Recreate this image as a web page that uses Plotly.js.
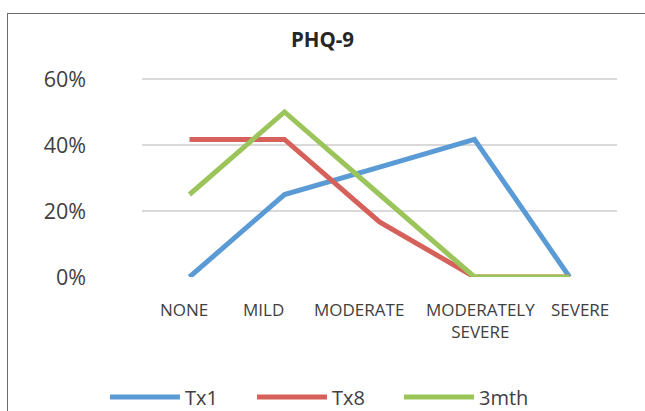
<!DOCTYPE html>
<html><head><meta charset="utf-8">
<script src="https://cdn.plot.ly/plotly-3.0.1.min.js"></script>
<style>
html,body{margin:0;padding:0;background:#fff;overflow:hidden;}
#frame{position:absolute;left:7px;top:13px;width:700px;height:500px;border:1.5px solid #6b6b6b;box-sizing:border-box;}
#chart{position:absolute;left:0;top:0;width:645px;height:411px;}
</style></head>
<body>
<div id="frame"></div>
<div id="chart"></div>
<script>
var categories = ["NONE", "MILD", "MODERATE", "MODERATELY SEVERE", "SEVERE"];
var tickLabels = ["NONE", "MILD", "MODERATE", "MODERATELY<br>SEVERE", "SEVERE"];
var tx1 = [0, 25, 33.3, 41.7, 0];
var tx8 = [41.7, 41.7, 16.7, 0, 0];
var m3 = [25, 50, 25, 0, 0];
var seriesNames = ["Tx1", "Tx8", "3mth"];
var colors = ["#5B9BD5", "#D6615A", "#9BC55B"];
var yTicks = [0, 20, 40, 60];
var yTickText = ["0%", "20%", "40%", "60%"];

// horizontal label offsets (style), mimicking the original layout of the category labels
var labelShift = [-6, -21, -21, 6, 10];

var allVals = [tx1, tx8, m3];
var traces = allVals.map(function(v, i){
  return {x: categories, y: v, type: "scatter", mode: "lines", name: seriesNames[i],
    line: {color: colors[i], width: 5}, hoverinfo: "skip"};
});
var annotations = categories.map(function(c, i){
  return {x: c, xref: "x", y: 0, yref: "paper", yanchor: "top", xanchor: "center",
    yshift: -19, xshift: labelShift[i], text: tickLabels[i], showarrow: false, align: "center",
    font: {size: 17, color: "#404040", family: "Open Sans, Noto Sans, sans-serif"}};
});
var layout = {
  width: 645, height: 411,
  margin: {l: 142, r: 28, t: 77, b: 134, autoexpand: false},
  paper_bgcolor: "rgba(0,0,0,0)", plot_bgcolor: "rgba(0,0,0,0)",
  font: {family: "Open Sans, Noto Sans, sans-serif", color: "#595959"},
  title: {text: "<b>PHQ-9</b>", x: 0.5, xanchor: "center", y: 0.903, yanchor: "middle",
    font: {size: 20.5, color: "#262626", family: "Open Sans, Noto Sans, sans-serif"}},
  xaxis: {type: "category", range: [-0.5, 4.5], showticklabels: false,
    showgrid: false, zeroline: false, showline: false, automargin: false, ticks: "", fixedrange: true},
  yaxis: {range: [0, 60.6], tickvals: yTicks, ticktext: yTickText, showgrid: true, gridcolor: "#d9d9d9", automargin: false,
    gridwidth: 1.3, zeroline: false, showline: false, ticks: "", tickfont: {size: 21.5, color: "#404040"},
    ticklabelstandoff: 55, fixedrange: true},
  annotations: annotations,
  showlegend: true,
  legend: {orientation: "h", x: -0.078, xanchor: "left", y: -0.60, yanchor: "middle",
    font: {size: 20, color: "#404040"}, itemwidth: 70, entrywidth: 62, bgcolor: "rgba(0,0,0,0)"}
};
Plotly.newPlot("chart", traces, layout, {displayModeBar: false, staticPlot: true});
</script>
</body></html>
